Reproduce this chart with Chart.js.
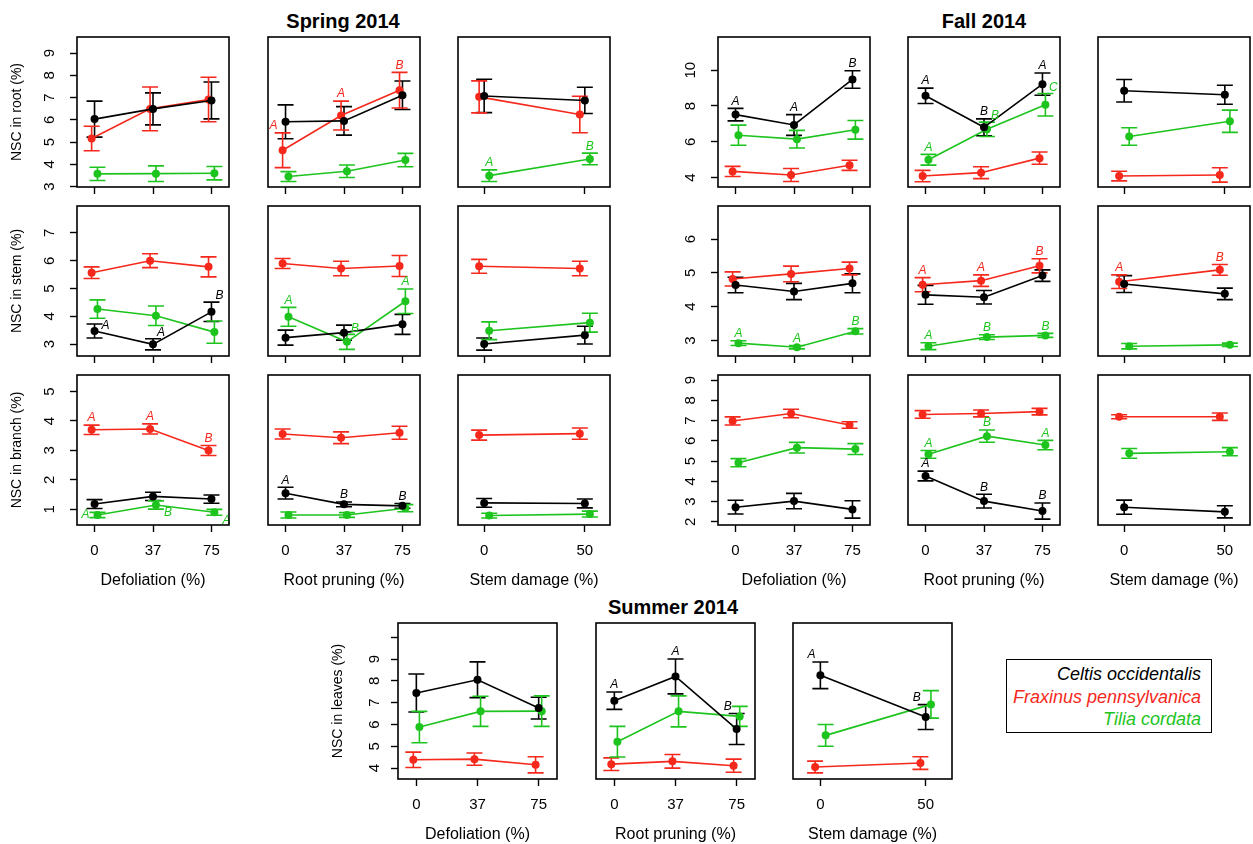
<!DOCTYPE html>
<html>
<head>
<meta charset="utf-8">
<script src="https://cdn.jsdelivr.net/npm/chart.js@4.4.1/dist/chart.umd.min.js"></script>
<style>
  body { margin: 0; background: #fff; width: 1253px; height: 844px; position: relative; overflow: hidden;
         font-family: 'Liberation Sans', Arial, sans-serif; }
  canvas { position: absolute; }
  .season { position: absolute; font-weight: bold; font-size: 20px; transform: translate(-50%, -50%); white-space: nowrap; }
  #legend { position: absolute; left: 1006px; top: 659px; width: 194px; height: 69px; border: 1.5px solid #000;
            padding: 3px 10px 0 0; text-align: right; font-style: italic; font-size: 18px; line-height: 22.5px; }
</style>
</head>
<body>
<div class="season" style="left:343px; top:21px">Spring 2014</div>
<div class="season" style="left:984px; top:21px">Fall 2014</div>
<div class="season" style="left:673px; top:607px">Summer 2014</div>
<div id="legend"></div>

<script>
// ---- data ----
const species = ['Celtis occidentalis', 'Fraxinus pennsylvanica', 'Tilia cordata'];
const treatmentTitles = ['Defoliation (%)', 'Root pruning (%)', 'Stem damage (%)'];
const levelLabels = [['0', '37', '75'], ['0', '37', '75'], ['0', '50']];
const levelIndex = [[0, 1, 2], [3, 4, 5], [6, 7]];

// each row: Defoliation 0/37/75, Root pruning 0/37/75, Stem damage 0/50
// rows of each array: Celtis, Fraxinus, Tilia ; sig letters use '-' for none
const springRootMean = [[6.03, 6.49, 6.87, 5.91, 5.95, 7.10, 7.07, 6.87],
                        [5.16, 6.49, 6.91, 4.63, 6.19, 7.33, 7.03, 6.24],
                        [3.57, 3.58, 3.60, 3.45, 3.69, 4.19, 3.49, 4.24]];
const springRootErr  = [[0.81, 0.72, 0.83, 0.76, 0.64, 0.64, 0.75, 0.59],
                        [0.55, 0.98, 1.00, 0.78, 0.65, 0.80, 0.72, 0.82],
                        [0.30, 0.35, 0.30, 0.22, 0.28, 0.30, 0.26, 0.26]];
const springRootSig  = ['--------', '---AAB--', '------AB'];

const springStemMean = [[3.47, 2.99, 4.16, 3.23, 3.41, 3.71, 3.00, 3.32],
                        [5.57, 6.00, 5.78, 5.90, 5.72, 5.81, 5.80, 5.72],
                        [4.26, 4.02, 3.43, 3.98, 3.08, 4.54, 3.48, 3.77]];
const springStemErr  = [[0.25, 0.20, 0.35, 0.27, 0.27, 0.36, 0.22, 0.32],
                        [0.21, 0.25, 0.36, 0.18, 0.26, 0.38, 0.25, 0.26],
                        [0.33, 0.35, 0.40, 0.34, 0.27, 0.44, 0.32, 0.34]];
const springStemSig  = ['AAB-----', '--------', '---ABA--'];

const springBranchMean = [[1.18, 1.44, 1.35, 1.55, 1.17, 1.12, 1.22, 1.20],
                          [3.70, 3.73, 3.00, 3.56, 3.43, 3.60, 3.52, 3.57],
                          [0.81, 1.15, 0.90, 0.81, 0.81, 1.04, 0.79, 0.84]];
const springBranchErr  = [[0.15, 0.14, 0.14, 0.20, 0.08, 0.08, 0.15, 0.15],
                          [0.16, 0.17, 0.17, 0.17, 0.20, 0.22, 0.17, 0.19],
                          [0.09, 0.14, 0.10, 0.10, 0.08, 0.12, 0.08, 0.10]];
const springBranchSig  = ['---ABB--', 'AAB-----', 'ABA-----'];

const fallRootMean = [[7.52, 6.94, 9.48, 8.57, 6.81, 9.22, 8.85, 8.63],
                      [4.35, 4.15, 4.69, 4.09, 4.28, 5.09, 4.09, 4.15],
                      [6.37, 6.15, 6.67, 5.00, 6.70, 8.07, 6.30, 7.15]];
const fallRootErr  = [[0.35, 0.58, 0.49, 0.43, 0.47, 0.62, 0.63, 0.53],
                      [0.28, 0.36, 0.28, 0.32, 0.33, 0.34, 0.27, 0.40],
                      [0.56, 0.49, 0.52, 0.30, 0.40, 0.63, 0.49, 0.62]];
const fallRootSig  = ['AABABA--', '--------', '---ABC--'];

const fallStemMean = [[4.64, 4.45, 4.69, 4.35, 4.28, 4.92, 4.67, 4.38],
                      [4.82, 4.97, 5.13, 4.65, 4.77, 5.21, 4.74, 5.09],
                      [2.92, 2.80, 3.27, 2.83, 3.10, 3.15, 2.83, 2.87]];
const fallStemErr  = [[0.23, 0.24, 0.28, 0.28, 0.20, 0.17, 0.25, 0.17],
                      [0.21, 0.23, 0.19, 0.21, 0.17, 0.21, 0.20, 0.16],
                      [0.07, 0.05, 0.08, 0.10, 0.07, 0.06, 0.08, 0.05]];
const fallStemSig  = ['--------', '---AABAB', 'AABABB--'];

const fallBranchMean = [[2.72, 3.02, 2.61, 4.26, 3.02, 2.53, 2.72, 2.49],
                        [6.98, 7.35, 6.78, 7.30, 7.35, 7.44, 7.19, 7.19],
                        [4.92, 5.66, 5.59, 5.33, 6.23, 5.79, 5.38, 5.46]];
const fallBranchErr  = [[0.34, 0.38, 0.43, 0.24, 0.34, 0.40, 0.35, 0.30],
                        [0.20, 0.21, 0.16, 0.19, 0.17, 0.16, 0.10, 0.18],
                        [0.20, 0.26, 0.27, 0.19, 0.30, 0.23, 0.24, 0.20]];
const fallBranchSig  = ['---ABB--', '--------', '---ABA--'];

const summerLeafMean = [[7.44, 8.05, 6.75, 7.09, 8.20, 5.79, 8.25, 6.34],
                        [4.38, 4.41, 4.15, 4.18, 4.31, 4.11, 4.05, 4.23],
                        [5.88, 6.60, 6.61, 5.21, 6.60, 6.37, 5.50, 6.92]];
const summerLeafErr  = [[0.87, 0.82, 0.50, 0.40, 0.80, 0.71, 0.61, 0.57],
                        [0.35, 0.28, 0.37, 0.29, 0.31, 0.30, 0.27, 0.29],
                        [0.72, 0.69, 0.70, 0.70, 0.71, 0.46, 0.50, 0.63]];
const summerLeafSig  = ['---AABAB', '--------', '--------'];

const springRootTicks = [3, 4, 5, 6, 7, 8, 9];
const springStemTicks = [3, 4, 5, 6, 7];
const springBranchTicks = [1, 2, 3, 4, 5];
const fallRootTicks = [4, 6, 8, 10];
const fallStemTicks = [3, 4, 5, 6];
const fallBranchTicks = [2, 3, 4, 5, 6, 7, 8, 9];
const summerLeafTicks = [4, 5, 6, 7, 8, 9, 10];
const summerUnlabelled = [10];

// ---- look ----
const colors = ['#000000', '#f5281c', '#1ec41e'];
const dodge = [0, -0.05, 0.05];
const springLefts = [77, 268, 458], fallLefts = [718, 908, 1098], gridW = 152, gridH = 150;
const rowTops = [37, 206, 375];
const summerLefts = [398, 596, 793], summerTop = 623, summerW = 159, summerH = 156;
// where a letter sits if not straight above the bar: key "panel:species:index"
const sigSpots = {
  'sr:1:3': 'al', 'ss:0:0': 'r', 'ss:0:1': 'ar', 'ss:0:2': 'ar', 'ss:2:4': 'ar',
  'sb:2:0': 'l', 'sb:2:1': 'br', 'sb:2:2': 'br', 'fr:2:4': 'ar', 'fr:2:5': 'ar',
  'sl:0:5': 'al', 'sl:0:6': 'al', 'sl:0:7': 'al'
};

Chart.defaults.font.family = "'Liberation Sans', Arial, sans-serif";
Chart.defaults.color = '#000';

const panelDecor = {
  id: 'panelDecor',
  beforeDatasetsDraw(chart) {
    const { ctx, scales: { x, y } } = chart;
    chart.data.datasets.forEach(ds => {
      ctx.save();
      ctx.strokeStyle = ds.borderColor;
      ctx.lineWidth = 1.6;
      ds.data.forEach(p => {
        const px = x.getPixelForValue(p.x);
        const hi = y.getPixelForValue(p.y + p.e);
        const lo = y.getPixelForValue(p.y - p.e);
        ctx.beginPath();
        ctx.moveTo(px, hi); ctx.lineTo(px, lo);
        ctx.moveTo(px - 8, hi); ctx.lineTo(px + 8, hi);
        ctx.moveTo(px - 8, lo); ctx.lineTo(px + 8, lo);
        ctx.stroke();
      });
      ctx.restore();
    });
  },
  afterDatasetsDraw(chart) {
    const { ctx, chartArea: a, scales: { x, y } } = chart;
    ctx.save();
    ctx.font = "italic 12px 'Liberation Sans', Arial, sans-serif";
    ctx.textAlign = 'center';
    ctx.textBaseline = 'middle';
    chart.data.datasets.forEach(ds => {
      ctx.fillStyle = ds.borderColor;
      ds.data.forEach(p => {
        if (!p.sig) return;
        const px = x.getPixelForValue(p.x);
        const py = y.getPixelForValue(p.y);
        const top = y.getPixelForValue(p.y + p.e);
        let tx = px, ty = top - 7;
        if (p.spot === 'r') { tx = px + 11; ty = py - 5; }
        else if (p.spot === 'l') { tx = px - 12; ty = py; }
        else if (p.spot === 'ar') { tx = px + 8; ty = top - 6; }
        else if (p.spot === 'al') { tx = px - 9; ty = top - 7; }
        else if (p.spot === 'br') { tx = px + 12; ty = py + 8; }
        ctx.fillText(p.sig, tx, ty);
      });
    });
    ctx.strokeStyle = '#000';
    ctx.lineWidth = 1.6;
    ctx.strokeRect(a.left, a.top, a.width, a.height);
    ctx.restore();
  }
};

function addPanel(p) {
  const padT = 30, padR = 25, padL = 25;
  const xH = p.bottom ? 65 : 30;
  const cLeft = p.left - (p.yW || padL);
  const cTop = p.top - padT;
  const w = (p.left - cLeft) + p.w + padR;
  const h = padT + p.h + xH;
  const canvas = document.createElement('canvas');
  canvas.width = w; canvas.height = h;
  canvas.style.left = cLeft + 'px'; canvas.style.top = cTop + 'px';
  canvas.style.width = w + 'px'; canvas.style.height = h + 'px';
  document.body.appendChild(canvas);

  const idx = levelIndex[p.col];
  const labels = levelLabels[p.col];
  const datasets = species.map((name, s) => ({
    label: name,
    data: idx.map((i, k) => ({
      x: k + 1 + dodge[s], y: p.mean[s][i], e: p.err[s][i],
      sig: p.sig[s][i] === '-' ? '' : p.sig[s][i],
      spot: sigSpots[p.key + ':' + s + ':' + i] || 'a'
    })),
    borderColor: colors[s],
    backgroundColor: colors[s],
    pointBackgroundColor: colors[s],
    pointBorderWidth: 0,
    pointRadius: 4,
    borderWidth: 1.6,
    tension: 0
  }));
  const yTicks = p.ticks;
  const twoDigits = Math.max(...yTicks.map(v => String(v).length)) > 1;

  new Chart(canvas, {
    type: 'line',
    data: { datasets },
    options: {
      responsive: false,
      animation: false,
      events: [],
      layout: { padding: { left: p.yW ? 0 : padL, right: padR, top: padT, bottom: 0 } },
      plugins: { legend: { display: false }, tooltip: { enabled: false } },
      scales: {
        x: {
          type: 'linear',
          min: labels.length === 2 ? 0.74 : 0.7,
          max: labels.length === 2 ? 2.25 : 3.3,
          afterBuildTicks: s => { s.ticks = labels.map((_, k) => ({ value: k + 1 })); },
          ticks: {
            display: p.bottom, autoSkip: false, maxRotation: 0, padding: 10,
            font: { size: 15 }, color: '#000',
            callback: v => labels[Math.round(v) - 1]
          },
          grid: { drawOnChartArea: false, drawTicks: true, tickLength: 7, tickColor: '#000', color: '#000', tickWidth: 1.4 },
          border: { display: false },
          title: { display: p.bottom, text: treatmentTitles[p.col], font: { size: 16 }, color: '#000', padding: 0 },
          afterFit: s => { s.height = xH; }
        },
        y: {
          display: !!p.yW,
          min: p.range[0], max: p.range[1],
          afterBuildTicks: s => { s.ticks = yTicks.map(v => ({ value: v })); },
          ticks: {
            autoSkip: false, minRotation: 90, maxRotation: 90, crossAlign: 'center', padding: twoDigits ? 12 : 16,
            font: { size: 15 }, color: '#000',
            callback: v => (p.hide || []).includes(v) ? '' : String(v)
          },
          grid: { drawOnChartArea: false, drawTicks: true, tickLength: 7, tickColor: '#000', color: '#000', tickWidth: 1.4 },
          border: { display: false },
          title: { display: !!p.ytitle, text: p.ytitle || '', font: { size: 14 }, color: '#000', padding: 0 },
          afterFit: s => { s.width = p.yW; }
        }
      }
    },
    plugins: [panelDecor]
  });
}

const springRows = [
  { key: 'sr', mean: springRootMean, err: springRootErr, sig: springRootSig, ticks: springRootTicks, range: [2.98, 9.72], ytitle: 'NSC in root (%)' },
  { key: 'ss', mean: springStemMean, err: springStemErr, sig: springStemSig, ticks: springStemTicks, range: [2.57, 7.97], ytitle: 'NSC in stem (%)' },
  { key: 'sb', mean: springBranchMean, err: springBranchErr, sig: springBranchSig, ticks: springBranchTicks, range: [0.47, 5.56], ytitle: 'NSC in branch (%)' }
];
const fallRows = [
  { key: 'fr', mean: fallRootMean, err: fallRootErr, sig: fallRootSig, ticks: fallRootTicks, range: [3.48, 11.85] },
  { key: 'fs', mean: fallStemMean, err: fallStemErr, sig: fallStemSig, ticks: fallStemTicks, range: [2.54, 6.98] },
  { key: 'fb', mean: fallBranchMean, err: fallBranchErr, sig: fallBranchSig, ticks: fallBranchTicks, range: [1.84, 9.25] }
];

springRows.forEach((row, r) => {
  springLefts.forEach((left, c) => {
    addPanel(Object.assign({}, row, { col: c, left, top: rowTops[r], w: gridW, h: gridH,
      bottom: r === 2, yW: c === 0 ? 68 : 0, ytitle: c === 0 ? row.ytitle : '' }));
  });
});
fallRows.forEach((row, r) => {
  fallLefts.forEach((left, c) => {
    addPanel(Object.assign({}, row, { col: c, left, top: rowTops[r], w: gridW, h: gridH,
      bottom: r === 2, yW: c === 0 ? 48 : 0 }));
  });
});
summerLefts.forEach((left, c) => {
  addPanel({ key: 'sl', mean: summerLeafMean, err: summerLeafErr, sig: summerLeafSig, ticks: summerLeafTicks,
    hide: summerUnlabelled, range: [3.5, 10.65], col: c, left, top: summerTop, w: summerW, h: summerH,
    bottom: true, yW: c === 0 ? 68 : 0, ytitle: c === 0 ? 'NSC in leaves (%)' : '' });
});

// legend box
const legend = document.getElementById('legend');
species.forEach((name, s) => {
  const line = document.createElement('div');
  line.textContent = name;
  line.style.color = colors[s];
  legend.appendChild(line);
});
</script>
</body>
</html>
